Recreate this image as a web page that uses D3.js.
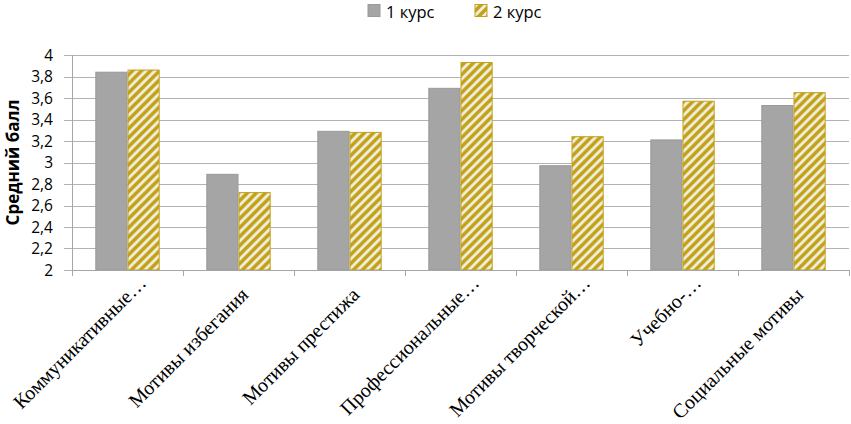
<!DOCTYPE html>
<html>
<head>
<meta charset="utf-8">
<script src="https://cdn.jsdelivr.net/npm/d3@7"></script>
<style>
  body { margin: 0; background: #fff; }
  svg { display: block; }
</style>
</head>
<body>
<div id="chart"></div>
<script>
var categories = ["Коммуникативные…", "Мотивы избегания", "Мотивы престижа", "Профессиональные…",
                  "Мотивы творческой…", "Учебно-…", "Социальные мотивы"];
var seriesNames = ["1 курс", "2 курс"];
var course1 = [3.84, 2.89, 3.29, 3.69, 2.97, 3.21, 3.53];
var course2 = [3.86, 2.72, 3.28, 3.93, 3.24, 3.57, 3.65];
var yTicks = [2, 2.2, 2.4, 2.6, 2.8, 3, 3.2, 3.4, 3.6, 3.8, 4];
var yTitle = "Средний балл";

var width = 851, height = 424,
    margin = {top: 55, right: 2, bottom: 154, left: 72};

var svg = d3.select("#chart").append("svg")
    .attr("width", width)
    .attr("height", height);

// hatch pattern for 2 курс
var defs = svg.append("defs");
var pat = defs.append("pattern")
    .attr("id", "hatch")
    .attr("patternUnits", "userSpaceOnUse")
    .attr("width", 9).attr("height", 9);
pat.append("rect").attr("width", 9).attr("height", 9).attr("fill", "#eef0dc");
pat.append("path")
    .attr("d", "M-2,2 L2,-2 M0,9 L9,0 M7,11 L11,7")
    .attr("stroke", "#c4a018")
    .attr("stroke-width", 3.4);

var x0 = d3.scaleBand()
    .domain(categories)
    .range([margin.left, width - margin.right])
    .paddingInner(0.42)
    .paddingOuter(0.21);

var x1 = d3.scaleBand()
    .domain(seriesNames)
    .range([0, x0.bandwidth()]);

var y = d3.scaleLinear()
    .domain([2, 4])
    .range([height - margin.bottom, margin.top]);

var fmt = function(d){ return String(d).replace(".", ","); };

// gridlines
svg.append("g")
  .selectAll("line")
  .data(yTicks)
  .enter().append("line")
    .attr("x1", margin.left - 8)
    .attr("x2", width - margin.right)
    .attr("y1", function(d){ return Math.round(y(d)) + 0.5; })
    .attr("y2", function(d){ return Math.round(y(d)) + 0.5; })
    .attr("stroke", "#b3b3b3")
    .attr("stroke-width", 1);

// y tick labels
svg.append("g")
  .selectAll("text")
  .data(yTicks)
  .enter().append("text")
    .attr("x", margin.left - 19)
    .attr("y", function(d){ return y(d); })
    .attr("dy", "0.36em")
    .attr("text-anchor", "end")
    .style("font-family", "'Open Sans', sans-serif")
    .style("font-size", "15.5px")
    .attr("fill", "#000")
    .text(fmt);

// y title
svg.append("text")
    .attr("transform", "translate(19," + ((margin.top + height - margin.bottom) / 2) + ") rotate(-90)")
    .attr("text-anchor", "middle")
    .style("font-family", "'Open Sans', sans-serif")
    .style("font-size", "17px")
    .style("font-weight", "bold")
    .text(yTitle);

// bars
var series = [course1, course2];
var group = svg.append("g")
  .selectAll("g")
  .data(categories)
  .enter().append("g")
    .attr("transform", function(d){ return "translate(" + x0(d) + ",0)"; });

group.selectAll("rect")
  .data(function(d, i){ return seriesNames.map(function(s, k){ return {s: s, v: series[k][i]}; }); })
  .enter().append("rect")
    .attr("x", function(d){ return x1(d.s) + 0.5; })
    .attr("y", function(d){ return y(d.v); })
    .attr("width", x1.bandwidth() - 1)
    .attr("height", function(d){ return y(2) - y(d.v); })
    .attr("fill", function(d){ return d.s === "1 курс" ? "#a5a5a5" : "url(#hatch)"; })
    .attr("stroke", function(d){ return d.s === "1 курс" ? "#999999" : "#c4a018"; })
    .attr("stroke-width", 1);

// axes lines
svg.append("line")
    .attr("x1", margin.left + 0.5).attr("x2", margin.left + 0.5)
    .attr("y1", margin.top).attr("y2", height - margin.bottom)
    .attr("stroke", "#a6a6a6");
svg.append("line")
    .attr("x1", margin.left).attr("x2", width - margin.right)
    .attr("y1", y(2) + 0.5).attr("y2", y(2) + 0.5)
    .attr("stroke", "#a6a6a6");

// category boundary ticks
var step = x0.step();
svg.append("g")
  .selectAll("line")
  .data(d3.range(categories.length + 1))
  .enter().append("line")
    .attr("x1", function(i){ return Math.round(margin.left + i * step) + 0.5; })
    .attr("x2", function(i){ return Math.round(margin.left + i * step) + 0.5; })
    .attr("y1", y(2))
    .attr("y2", y(2) + 6)
    .attr("stroke", "#a6a6a6");

// x labels (truncated ones sit a little further along the diagonal)
svg.append("g")
  .selectAll("text")
  .data(categories)
  .enter().append("text")
    .attr("transform", function(d){
      var cx = x0(d) + x0.bandwidth() / 2,
          cut = d.slice(-1) === "…";
      return "translate(" + (cx + (cut ? 20 : 11)) + "," + (y(2) + (cut ? 14 : 26)) + ") rotate(-45)";
    })
    .attr("text-anchor", "end")
    .style("font-family", "'Liberation Serif', 'Times New Roman', serif")
    .style("font-size", "20px")
    .text(function(d){ return d; });

// legend
var legend = svg.append("g");
var lx = [368, 475];
seriesNames.forEach(function(s, k){
  legend.append("rect")
      .attr("x", lx[k]).attr("y", 4.5)
      .attr("width", 12).attr("height", 12)
      .attr("fill", k === 0 ? "#a5a5a5" : "url(#hatch)")
      .attr("stroke", k === 0 ? "#999999" : "#c4a018");
  legend.append("text")
      .attr("x", lx[k] + 18).attr("y", 18)
      .style("font-family", "'Open Sans', sans-serif")
      .style("font-size", "16.5px")
      .text(s);
});
</script>
</body>
</html>
